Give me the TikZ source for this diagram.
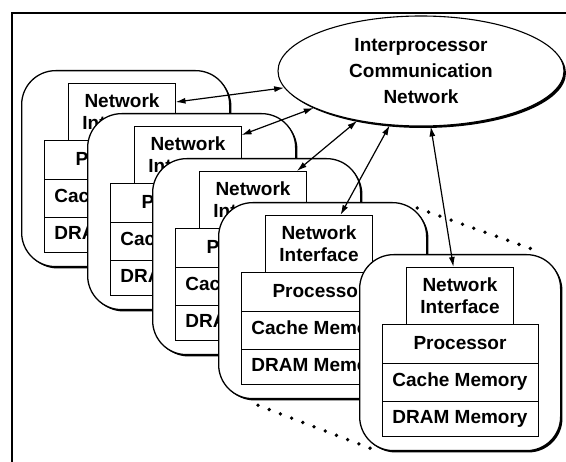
\documentclass[tikz,border=0pt]{standalone}
\usepackage{fontspec}
\setmainfont{Liberation Sans}
\usetikzlibrary{positioning,calc,shapes.geometric,shadows,arrows.meta}

\begin{document}
\begin{tikzpicture}[x=1pt,y=-1pt,
  lbl/.style={font=\bfseries\fontsize{19}{22}\selectfont},
  card/.style={draw,line width=1.3pt,fill=white,rounded corners=34pt,minimum height=196pt,
    anchor=north west,inner sep=0pt,
    drop shadow={shadow xshift=1.8pt,shadow yshift=-1.8pt,fill=black,opacity=1}},
  nibox/.style={lbl,draw,line width=0.9pt,fill=white,align=center,minimum width=107pt,
    minimum height=57pt,anchor=north,inner sep=0pt,outer sep=0pt},
  membox/.style={lbl,draw,line width=0.9pt,fill=white,minimum width=156pt,inner sep=0pt,outer sep=0pt},
  link/.style={line width=1.2pt,{Latex[length=10pt,width=6pt]}-{Latex[length=10pt,width=6pt]}},
  gap/.style={line width=3.8pt,line cap=round,dash pattern=on 0pt off 12pt}]
\useasboundingbox (0,0) rectangle (566,462);
\draw[line width=1.1pt] (12,462) -- (12,13) -- (566,13);

\node[ellipse,draw,line width=1.1pt,fill=white,minimum width=286pt,minimum height=110pt,inner sep=0pt,
  font=\bfseries\fontsize{19}{26}\selectfont,align=center,
  drop shadow={shadow xshift=2pt,shadow yshift=-2pt,fill=black,opacity=1}]
  (net) at (421,71) {Interprocessor\\Communication\\Network};

% stacked processing nodes, the last one set apart
\foreach \n/\x/\y/\w in {1/21/70/208pt,2/87/113/208pt,3/152/158/208pt,4/218/202/208pt,5/359/254/201pt}{
  \node[card,minimum width=\w] (c\n) at (\x,\y) {};
  \node[nibox] (ni\n) at ($(c\n.north west)+(101,13)$) {Network\\Interface};
  \node[membox,minimum height=39pt,below=0pt of ni\n] (pr\n) {Processor};
  \node[membox,minimum height=38pt,below=0pt of pr\n] (ca\n) {Cache Memory};
  \node[membox,minimum height=35pt,below=0pt of ca\n] (dr\n) {DRAM Memory};
}

% dots for the nodes left out
\coordinate (g1) at ($(c4.north east)+(-10,6)$);
\coordinate (g2) at ($(c5.north east)+(-21,-2)$);
\coordinate (g3) at ($(c4.south west)+(40,6)$);
\coordinate (g4) at ($(c5.south west)+(14,-2)$);
\draw[gap] (g1) -- (g2);
\draw[gap] (g3) -- (g4);

\draw[link] (net.187) -- (ni1.10);
\draw[link] (net.199) -- (ni2.20);
\draw[link] (net.218) -- (ni3.33);
\draw[link] (net.240) -- (ni4.53);
\draw[link] (net.280) -- (ni5.103);
\end{tikzpicture}
\end{document}
